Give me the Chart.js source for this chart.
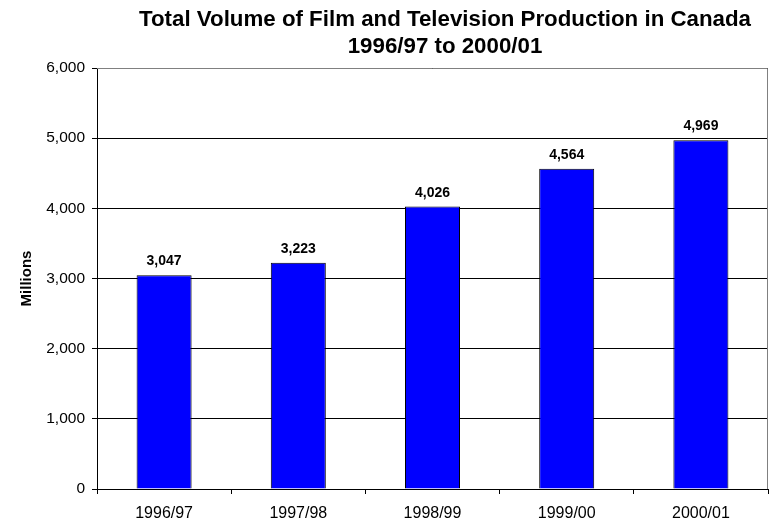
<!DOCTYPE html>
<html>
<head>
<meta charset="utf-8">
<script src="https://cdn.jsdelivr.net/npm/chart.js@4/dist/chart.umd.min.js"></script>
<style>
  html, body { margin: 0; padding: 0; background: #fff; }
  #wrap { width: 774px; height: 523px; }
</style>
</head>
<body>
<div id="wrap"><canvas id="volumeChart"></canvas></div>
<script>
const years = ['1996/97', '1997/98', '1998/99', '1999/00', '2000/01'];
const volume = [3047, 3223, 4026, 4564, 4969]; // millions of dollars
const yTicks = [0, 1000, 2000, 3000, 4000, 5000, 6000];
const titleLines = ['Total Volume of Film and Television Production in Canada', '1996/97 to 2000/01'];

const FONT = '"Liberation Sans", Arial, sans-serif';
const fmt = v => v.toLocaleString('en-US');

// two-line heading, centred a little right of the canvas middle
const heading = {
    id: 'heading',
    afterDraw(chart) {
        const c = chart.ctx;
        c.save();
        c.font = 'bold 22.3px ' + FONT;
        c.fillStyle = '#000';
        c.textAlign = 'center';
        c.textBaseline = 'alphabetic';
        c.fillText(titleLines[0], 445, 26);
        c.fillText(titleLines[1], 445, 53);
        c.restore();
    }
};

// values printed above each bar
const barLabels = {
    id: 'barLabels',
    afterDatasetsDraw(chart) {
        const c = chart.ctx;
        const meta = chart.getDatasetMeta(0);
        c.save();
        c.font = 'bold 14px ' + FONT;
        c.fillStyle = '#000';
        c.textAlign = 'center';
        c.textBaseline = 'alphabetic';
        meta.data.forEach((bar, i) => {
            c.fillText(fmt(volume[i]), bar.x, bar.y - 10);
        });
        c.restore();
    }
};

// gray frame on top and right of the plot area
const plotFrame = {
    id: 'plotFrame',
    afterDraw(chart) {
        const a = chart.chartArea;
        const c = chart.ctx;
        c.save();
        c.strokeStyle = '#808080';
        c.lineWidth = 1;
        c.beginPath();
        c.moveTo(a.left, a.top + 0.5);
        c.lineTo(a.right - 0.5, a.top + 0.5);
        c.lineTo(a.right - 0.5, a.bottom);
        c.stroke();
        c.restore();
    }
};

let ctx = document.getElementById('volumeChart').getContext('2d');

let volumeChart = new Chart(ctx, {
    type: 'bar',
    data: {
        labels: years,
        datasets: [{
            data: volume,
            backgroundColor: '#0000FF',
            borderColor: '#000',
            borderWidth: 1,
            categoryPercentage: 0.41,
            barPercentage: 1
        }]
    },
    options: {
        responsive: true,
        maintainAspectRatio: false,
        animation: false,
        layout: { padding: { left: 0, right: 6, top: 68, bottom: 0 } },
        plugins: {
            legend: { display: false },
            tooltip: { enabled: false },
            title: { display: false }
        },
        scales: {
            x: {
                grid: { drawOnChartArea: false, drawTicks: true, tickLength: 5, color: '#000', offset: true },
                border: { color: '#000', width: 1 },
                ticks: {
                    color: '#000',
                    padding: 10,
                    font: { family: FONT, size: 16 }
                },
                afterFit(scale) { scale.height = 34; }
            },
            y: {
                min: 0,
                max: 6000,
                afterBuildTicks(scale) { scale.ticks = yTicks.map(v => ({ value: v })); },
                grid: { color: '#000', tickLength: 5, drawTicks: true },
                border: { color: '#000', width: 1 },
                ticks: {
                    color: '#000',
                    padding: 7,
                    font: { family: FONT, size: 15.5 },
                    callback: v => fmt(v)
                },
                title: {
                    display: true,
                    text: 'Millions',
                    color: '#000',
                    font: { family: FONT, size: 15, weight: 'bold' },
                    padding: { top: 18, bottom: 0 }
                },
                afterFit(scale) { scale.width = 97; }
            }
        }
    },
    plugins: [barLabels, plotFrame, heading]
});
</script>
</body>
</html>
